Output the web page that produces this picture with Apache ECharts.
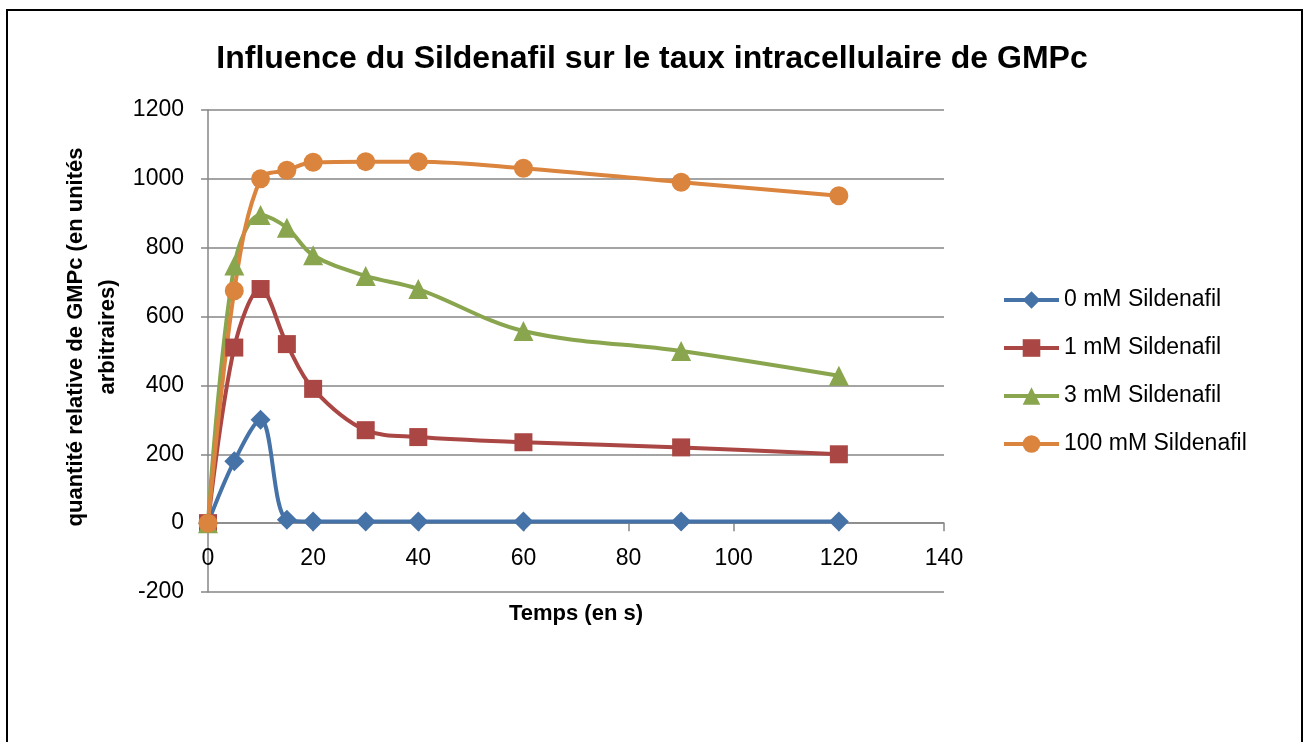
<!DOCTYPE html>
<html>
<head>
<meta charset="utf-8">
<script src="https://cdn.jsdelivr.net/npm/echarts@6/dist/echarts.min.js"></script>
<style>
  html, body { margin: 0; padding: 0; background: #fff; overflow: hidden; }
  #frame {
    position: absolute; left: 6px; top: 9px; width: 1297px; height: 760px;
    border: 2px solid #000; box-sizing: border-box;
  }
  #chart { position: absolute; left: 0; top: 0; width: 1304px; height: 742px; }
</style>
</head>
<body>
<div id="frame"></div>
<div id="chart"></div>
<script>
// temps (s)
const temps = [0, 5, 10, 15, 20, 30, 40, 60, 90, 120]
// quantité relative de GMPc
const sild0 = [0, 180, 300, 10, 5, 5, 5, 5, 5, 5]
const sild1 = [0, 510, 680, 520, 390, 270, 250, 235, 220, 200]
const sild3 = [0, 748, 895, 858, 778, 718, 680, 558, 500, 428]
const sild100 = [0, 675, 1000, 1025, 1048, 1050, 1050, 1031, 990, 951]

const noms = ['0 mM Sildenafil', '1 mM Sildenafil', '3 mM Sildenafil', '100 mM Sildenafil']
const couleurs = ['#4572A7', '#AA4643', '#89A54E', '#DB843D']
const symboles = ['diamond', 'rect', 'triangle', 'circle']
const tailles = [20, 18, 20, 19]
const valeurs = [sild0, sild1, sild3, sild100]

const police = 'Liberation Sans'
const gris = '#868686'

const myChart = echarts.init(document.getElementById('chart'))

const option = {
  animation: false,
  title: {
    text: 'Influence du Sildenafil sur le taux intracellulaire de GMPc',
    left: 'center',
    top: 38,
    textStyle: { fontFamily: police, fontWeight: 'bold', fontSize: 32, color: '#000' }
  },
  legend: {
    orient: 'vertical',
    left: 997,
    top: 283,
    itemWidth: 55,
    itemHeight: 22,
    itemGap: 24,
    data: noms,
    lineStyle: { width: 4 },
    textStyle: { fontFamily: police, fontSize: 23, color: '#000', lineHeight: 24 }
  },
  grid: { left: 208, right: 360, top: 110, bottom: 150 },
  xAxis: {
    type: 'value',
    min: 0,
    max: 140,
    interval: 20,
    name: 'Temps (en s)',
    nameLocation: 'middle',
    nameGap: 11,
    nameMoveOverlap: false,
    nameTextStyle: { fontFamily: police, fontWeight: 'bold', fontSize: 22, color: '#000' },
    axisLine: { show: true, lineStyle: { color: gris, width: 1.5 } },
    axisTick: { show: true, length: 8, lineStyle: { color: gris, width: 1.5 } },
    axisLabel: { margin: -45, fontFamily: police, fontSize: 23, color: '#000' },
    splitLine: { show: false }
  },
  yAxis: {
    type: 'value',
    min: -200,
    max: 1200,
    interval: 200,
    name: 'quantité relative de GMPc (en unités\narbitraires)',
    nameLocation: 'middle',
    nameGap: 84,
    nameMoveOverlap: false,
    nameRotate: 90,
    nameTextStyle: {
      fontFamily: police, fontWeight: 'bold', fontSize: 22, color: '#000',
      lineHeight: 32, padding: [0, 0, 0, 28]
    },
    axisLine: { show: true, lineStyle: { color: gris, width: 1.5 } },
    axisTick: { show: true, length: 7, lineStyle: { color: gris, width: 1.5 } },
    axisLabel: { margin: 24, fontFamily: police, fontSize: 23, color: '#000', formatter: v => String(v) },
    splitLine: { show: true, lineStyle: { color: gris, width: 1.5 } }
  },
  series: noms.map((nom, i) => ({
    name: nom,
    type: 'line',
    smooth: 0.35,
    data: temps.map((t, k) => [t, valeurs[i][k]]),
    symbol: symboles[i],
    symbolSize: tailles[i],
    itemStyle: { color: couleurs[i] },
    lineStyle: { color: couleurs[i], width: 4 }
  }))
}

myChart.setOption(option)
window.onresize = () => { myChart.resize() }
</script>
</body>
</html>
